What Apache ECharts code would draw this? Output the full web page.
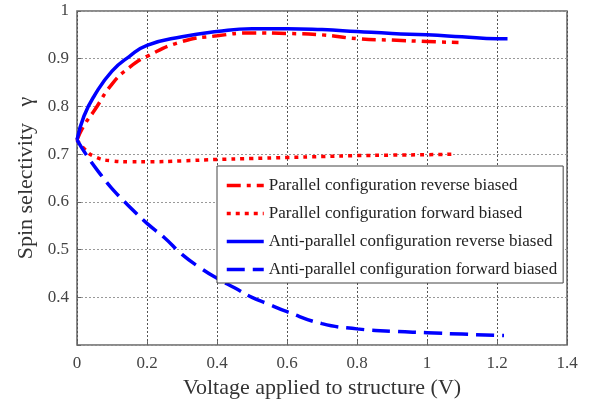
<!DOCTYPE html>
<html>
<head>
<meta charset="UTF-8"/>
<title>Spin selectivity</title>
<script src="https://cdn.jsdelivr.net/npm/echarts@6/dist/echarts.min.js"></script>
<style>
	body { margin: 0; background: #fff; }
	#chart { width: 598px; height: 404px; }
</style>
</head>
<body>
<div id="chart"></div>
<script type="text/javascript">
// values: [voltage, selectivity]
var pRevX = [0, 0.02, 0.05, 0.1, 0.15, 0.2, 0.3, 0.4, 0.5, 0.6, 0.7, 0.8, 0.9, 1.0, 1.09];
var pRevY = [0.73, 0.76, 0.792, 0.847, 0.882, 0.905, 0.936, 0.948, 0.954, 0.953, 0.950, 0.942, 0.939, 0.936, 0.934];
var pFwdX = [0, 0.02, 0.05, 0.1, 0.15, 0.2, 0.3, 0.4, 0.5, 0.6, 0.7, 0.8, 0.9, 1.0, 1.08];
var pFwdY = [0.73, 0.712, 0.695, 0.686, 0.684, 0.684, 0.686, 0.689, 0.691, 0.693, 0.695, 0.697, 0.698, 0.699, 0.70];
var apRevX = [0, 0.02, 0.05, 0.1, 0.15, 0.2, 0.3, 0.4, 0.5, 0.6, 0.7, 0.8, 0.9, 1.0, 1.1, 1.2, 1.23];
var apRevY = [0.73, 0.78, 0.823, 0.874, 0.905, 0.928, 0.946, 0.957, 0.963, 0.963, 0.961, 0.957, 0.953, 0.950, 0.946, 0.942, 0.942];
var apFwdX = [0, 0.03, 0.07, 0.1, 0.15, 0.2, 0.25, 0.3, 0.35, 0.4, 0.45, 0.5, 0.55, 0.6, 0.7, 0.8, 0.9, 1.0, 1.1, 1.22];
var apFwdY = [0.73, 0.695, 0.655, 0.628, 0.59, 0.555, 0.525, 0.49, 0.463, 0.44, 0.42, 0.40, 0.385, 0.37, 0.345, 0.334, 0.329, 0.326, 0.323, 0.32];
var names = [
	'Parallel configuration reverse biased',
	'Parallel configuration forward biased',
	'Anti-parallel configuration reverse biased',
	'Anti-parallel configuration forward biased'
];

function pairs(xs, ys) {
	return xs.map(function (x, i) { return [x, ys[i]]; });
}
function fmt(v) {
	return String(Math.round(v * 10) / 10);
}

var font = 'Liberation Serif';
var chart = echarts.init(document.getElementById('chart'));
var option = {
	backgroundColor: '#fff',
	animation: false,
	grid: { left: 77, top: 11, right: 31, bottom: 55, show: true, borderColor: '#666', borderWidth: 1.5 },
	xAxis: {
		type: 'value', min: 0, max: 1.4, interval: 0.2,
		name: 'Voltage applied to structure (V)', nameLocation: 'middle', nameGap: 29,
		nameTextStyle: { fontFamily: font, fontSize: 22, color: '#333' },
		axisLine: { show: false },
		axisTick: { inside: true, length: 4, lineStyle: { color: '#666' } },
		axisLabel: { fontFamily: font, fontSize: 17, color: '#444', margin: 10, formatter: fmt },
		splitLine: { lineStyle: { color: '#555', type: [2, 2], width: 1 } }
	},
	yAxis: {
		type: 'value', min: 0.3, max: 1, interval: 0.1,
		name: 'Spin selectivity   \u03b3', nameLocation: 'middle', nameGap: 40,
		nameTextStyle: { fontFamily: font, fontSize: 22, color: '#333' },
		axisLine: { show: false },
		axisTick: { inside: true, length: 4, lineStyle: { color: '#666' } },
		axisLabel: { fontFamily: font, fontSize: 17, color: '#444', margin: 8,
			formatter: function (v) { return v < 0.35 ? '' : fmt(v); } },
		splitLine: { lineStyle: { color: '#999', type: [2, 2], width: 1 } }
	},
	legend: {
		orient: 'vertical', left: 217, top: 166,
		backgroundColor: '#fff', borderColor: '#444', borderWidth: 1,
		padding: [11, 6, 5, 8], itemGap: 11, itemWidth: 37, itemHeight: 14,
		itemStyle: { opacity: 0 },
		lineStyle: { width: 3.5 },
		textStyle: { fontFamily: font, fontSize: 17, color: '#222' },
		data: names
	},
	series: [
		{ name: names[0], type: 'line', smooth: true, symbol: 'none', data: pairs(pRevX, pRevY),
		  lineStyle: { color: '#ff0000', width: 3.5, type: [14, 6, 4, 6] }, itemStyle: { color: '#ff0000' } },
		{ name: names[1], type: 'line', smooth: true, symbol: 'none', data: pairs(pFwdX, pFwdY),
		  lineStyle: { color: '#ff0000', width: 3.5, type: [4, 5] }, itemStyle: { color: '#ff0000' } },
		{ name: names[2], type: 'line', smooth: true, symbol: 'none', data: pairs(apRevX, apRevY),
		  lineStyle: { color: '#0000ff', width: 3.5, type: 'solid' }, itemStyle: { color: '#0000ff' } },
		{ name: names[3], type: 'line', smooth: true, symbol: 'none', data: pairs(apFwdX, apFwdY),
		  lineStyle: { color: '#0000ff', width: 3.5, type: [18, 8] }, itemStyle: { color: '#0000ff' } }
	]
};
chart.setOption(option);
</script>
</body>
</html>
